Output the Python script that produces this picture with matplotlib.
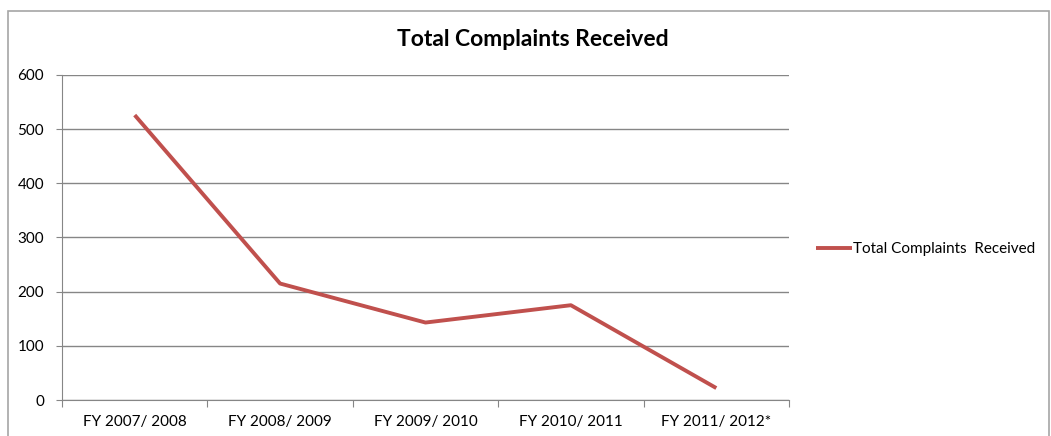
import matplotlib

matplotlib.use("Agg")
import matplotlib.pyplot as plt  # noqa: E402
from matplotlib.patches import Rectangle  # noqa: E402

categories = ["FY 2007/ 2008", "FY 2008/ 2009", "FY 2009/ 2010", "FY 2010/ 2011", "FY 2011/ 2012*"]
complaints = [526, 215, 143, 175, 22]
y_ticks = [0, 100, 200, 300, 400, 500, 600]

plt.rcParams["font.family"] = ["Lato", "DejaVu Sans"]

W, H = 1051, 436
fig = plt.figure(figsize=(W / 100, H / 100), dpi=100)

# outer chart border
fig.patches.append(Rectangle((8 / W, -0.1), (1049 - 8) / W, 1.1 - 11 / H,
                             transform=fig.transFigure, fill=False,
                             edgecolor="#a6a6a6", linewidth=1.2))

left, right, top, bottom = 62, 789, 75, 400
ax = fig.add_axes([left / W, 1 - bottom / H, (right - left) / W, (bottom - top) / H])

x = list(range(len(categories)))
ax.plot(x, complaints, color="#c0504d", linewidth=2.8, solid_capstyle="butt",
        label="Total Complaints  Received")

ax.set_xlim(-0.5, len(categories) - 0.5)
ax.set_ylim(0, 600)
ax.set_yticks(y_ticks)
ax.set_yticklabels([str(v) for v in y_ticks], fontsize=11)
ax.yaxis.grid(True, color="#868686", linewidth=1)
ax.set_axisbelow(True)

ax.set_xticks([i - 0.5 for i in range(len(categories) + 1)])
ax.set_xticklabels([])
ax.set_xticks(x, minor=True)
ax.set_xticklabels(categories, minor=True, fontsize=11)
ax.tick_params(axis="x", which="minor", length=0, pad=11)
ax.tick_params(axis="x", which="major", length=5, color="#868686")
ax.tick_params(axis="y", length=4, color="#868686", pad=9)

for s in ["top", "right"]:
    ax.spines[s].set_visible(False)
for s in ["left", "bottom"]:
    ax.spines[s].set_color("#868686")

fig.text(533 / W, 1 - 40 / H, "Total Complaints Received", ha="center", va="center",
         fontsize=16.5, fontweight="bold")

ax.legend(loc="center left", bbox_to_anchor=(808 / W, 1 - 249 / H),
          bbox_transform=fig.transFigure, frameon=False, fontsize=11,
          handlelength=2.4, handletextpad=0.05, borderpad=0)

fig.savefig("out.png", dpi=100)
